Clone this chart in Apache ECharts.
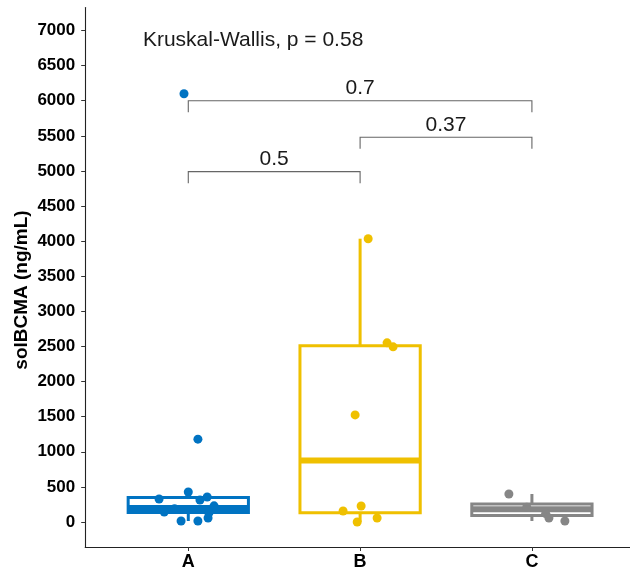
<!DOCTYPE html>
<html>
<head>
<meta charset="utf-8">
<script src="https://cdn.jsdelivr.net/npm/echarts@6/dist/echarts.min.js"></script>
<style>
html,body{margin:0;padding:0;background:#fff;}
#chart{width:630px;height:573px;}
</style>
</head>
<body>
<div id="chart"></div>
<script>
// ---- data ----
var categories = ['A', 'B', 'C'];
var colors = ['#0073C2', '#EFC000', '#868686'];
// box summaries: [lowWhisker, Q1, median, Q3, highWhisker]
var boxA = [14, 135, 200, 349, 428];
var boxB = [0, 132, 876, 2509, 4035];
var boxC = [14, 92, 180, 257, 399];
// jittered points: values and horizontal jitter offsets (category units)
var pointsA = [6100, 1180, 428, 356, 328, 314, 230, 190, 143, 130, 57, 14, 14];
var jitterA = [-0.025, 0.056, 0.0, 0.11, -0.17, 0.068, 0.15, -0.08, -0.14, 0.12, 0.115, -0.042, 0.056];
var pointsB = [4035, 2552, 2495, 1525, 228, 157, 57, 0];
var jitterB = [0.047, 0.157, 0.192, -0.029, 0.006, -0.099, 0.099, -0.017];
var pointsC = [399, 210, 120, 57, 14];
var jitterC = [-0.134, -0.03, 0.08, 0.099, 0.192];
// pairwise comparison brackets
var bracketFrom = [1, 2, 1];
var bracketTo = [3, 3, 2];
var bracketY = [6000, 5480, 4990];
var bracketLabels = ['0.7', '0.37', '0.5'];
var yTicks = [0, 500, 1000, 1500, 2000, 2500, 3000, 3500, 4000, 4500, 5000, 5500, 6000, 6500, 7000];
var kwText = 'Kruskal-Wallis, p = 0.58';
var yTitle = 'solBCMA (ng/mL)';

// ---- build ----
var boxes = [boxA, boxB, boxC];
var pts = [pointsA, pointsB, pointsC];
var jit = [jitterA, jitterB, jitterC];
var FONT = "'Liberation Sans', Arial, sans-serif";

var chart = echarts.init(document.getElementById('chart'), null, {renderer: 'canvas'});

var boxData = boxes.map(function (b, i) { return [i + 1].concat(b); });

var series = [];
series.push({
  type: 'custom',
  name: 'box',
  data: boxData,
  z: 2,
  renderItem: function (params, api) {
    var idx = params.dataIndex;
    var x = api.value(0);
    var lo = api.value(1), q1 = api.value(2), med = api.value(3), q3 = api.value(4), hi = api.value(5);
    var hw = 0.35;
    var pL = api.coord([x - hw, q3]);
    var pR = api.coord([x + hw, q1]);
    var pc = api.coord([x, med]);
    var pHi = api.coord([x, hi]);
    var pLo = api.coord([x, lo]);
    var pQ3 = api.coord([x, q3]);
    var pQ1 = api.coord([x, q1]);
    var c = colors[idx];
    return {
      type: 'group',
      children: [
        {type: 'line', shape: {x1: pHi[0], y1: pHi[1], x2: pQ3[0], y2: pQ3[1]}, style: {stroke: c, lineWidth: 3}},
        {type: 'line', shape: {x1: pQ1[0], y1: pQ1[1], x2: pLo[0], y2: pLo[1]}, style: {stroke: c, lineWidth: 3}},
        {type: 'rect', shape: {x: pL[0], y: pL[1], width: pR[0] - pL[0], height: pR[1] - pL[1]}, style: {fill: 'rgba(255,255,255,0)', stroke: c, lineWidth: 3}},
        {type: 'line', shape: {x1: pL[0], y1: pc[1], x2: pR[0], y2: pc[1]}, style: {stroke: c, lineWidth: 6}}
      ]
    };
  }
});

pts.forEach(function (arr, i) {
  series.push({
    type: 'scatter',
    name: categories[i],
    z: 3,
    symbolSize: 9,
    itemStyle: {color: colors[i], opacity: 1},
    data: arr.map(function (v, k) { return [i + 1 + jit[i][k], v]; })
  });
});

series.push({
  type: 'custom',
  name: 'brackets',
  z: 4,
  data: bracketFrom.map(function (f, i) { return [f, bracketTo[i], bracketY[i]]; }),
  renderItem: function (params, api) {
    var f = api.value(0), t = api.value(1), y = api.value(2);
    var drop = 165;
    var a = api.coord([f, y]), b = api.coord([t, y]);
    var a2 = api.coord([f, y - drop]), b2 = api.coord([t, y - drop]);
    return {
      type: 'group',
      children: [
        {type: 'polyline', shape: {points: [a2, a, b, b2]}, style: {stroke: '#666666', lineWidth: 1.1, fill: null}},
        {type: 'text', style: {text: bracketLabels[params.dataIndex], x: (a[0] + b[0]) / 2, y: a[1] - 12.5,
          align: 'center', verticalAlign: 'middle', fill: '#1a1a1a', font: '21px ' + FONT}}
      ]
    };
  }
});

series.push({
  type: 'custom',
  name: 'kw',
  z: 4,
  data: [[0.736, 6858]],
  renderItem: function (params, api) {
    var p = api.coord([api.value(0), api.value(1)]);
    return {type: 'text', style: {text: kwText, x: p[0], y: p[1], align: 'left', verticalAlign: 'middle', fill: '#1a1a1a', font: '21px ' + FONT}};
  }
});

var option = {
  animation: false,
  backgroundColor: '#ffffff',
  grid: {left: 85.2, right: -5, top: 7.5, bottom: 26, containLabel: false, outerBoundsMode: 'none'},
  xAxis: {
    type: 'value', min: 0.4, max: 3.6,
    splitLine: {show: false},
    axisLine: {show: true, onZero: false, lineStyle: {color: '#222', width: 1.1}},
    axisTick: {show: true, length: 4, customValues: [1, 2, 3], lineStyle: {color: '#333'}},
    axisLabel: {customValues: [1, 2, 3], margin: 6, color: '#000', fontWeight: 'bold', fontSize: 18, fontFamily: FONT,
      formatter: function (v) { return categories[Math.round(v) - 1] || ''; }}
  },
  yAxis: {
    type: 'value', min: -356, max: 7328,
    splitLine: {show: false},
    axisLine: {show: true, onZero: false, lineStyle: {color: '#222', width: 1.1}},
    axisTick: {show: true, length: 4, customValues: yTicks, lineStyle: {color: '#333'}},
    axisLabel: {customValues: yTicks, margin: 10, color: '#000', fontWeight: 'bold', fontSize: 17, fontFamily: FONT,
      formatter: function (v) { return String(v); }}
  },
  graphic: [{
    type: 'text', x: 22, y: 290, rotation: Math.PI / 2,
    style: {text: yTitle, align: 'center', verticalAlign: 'middle', fill: '#000', font: 'bold 19px ' + FONT}
  }],
  series: series
};
chart.setOption(option);
</script>
</body>
</html>
